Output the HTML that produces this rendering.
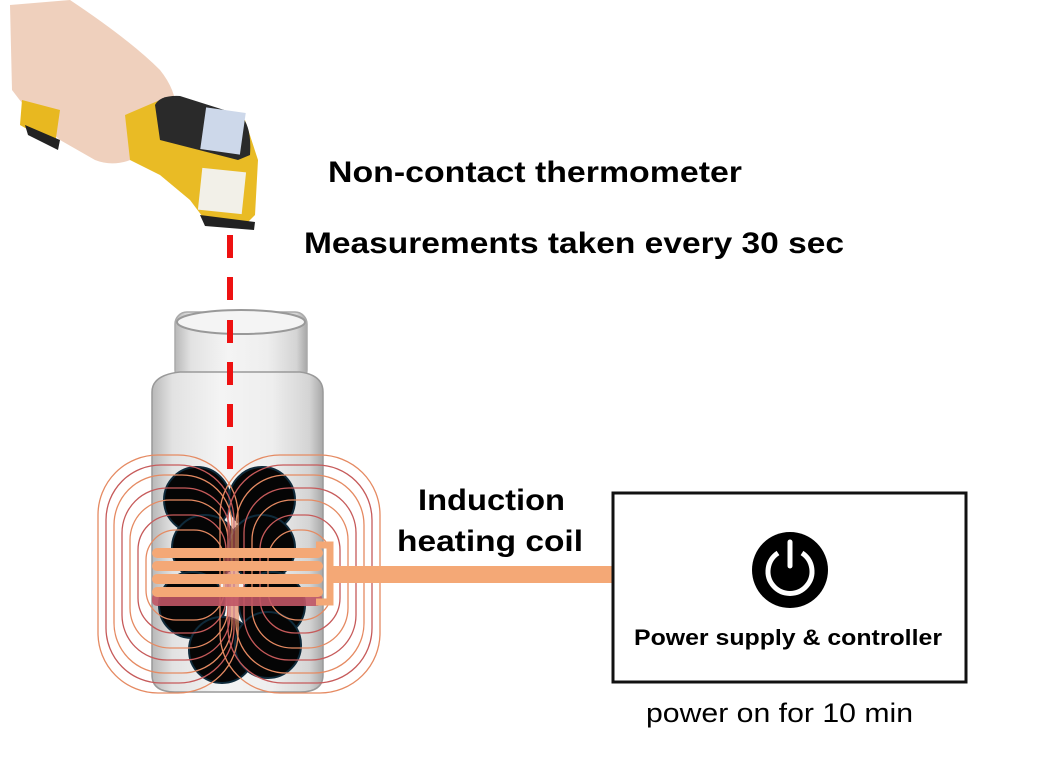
<!DOCTYPE html>
<html><head><meta charset="utf-8"><style>
html,body{margin:0;padding:0;background:#fff;}
svg{display:block;}
text{font-family:"Liberation Sans",sans-serif;}
</style></head><body>
<svg width="1057" height="777" viewBox="0 0 1057 777" xmlns="http://www.w3.org/2000/svg">
<defs>
<linearGradient id="glass" x1="0" x2="1" y1="0" y2="0">
<stop offset="0" stop-color="#b8b8b8"/><stop offset="0.12" stop-color="#e2e2e2"/><stop offset="0.4" stop-color="#f4f4f4"/><stop offset="0.7" stop-color="#eeeeee"/><stop offset="0.92" stop-color="#d4d4d4"/><stop offset="1" stop-color="#a8a8a8"/>
</linearGradient>
</defs>
<!-- hand -->
<path d="M10,5 L70,0 Q130,40 160,70 Q180,95 175,120 L150,150 Q120,170 95,160 L60,140 Q30,115 12,90 Z" fill="#efd0bd"/>
<!-- thermometer handle -->
<path d="M22,100 L60,110 L55,145 L20,125 Z" fill="#e8b820"/>
<path d="M25,125 L60,140 L58,150 L28,135 Z" fill="#222"/>
<!-- thermometer body -->
<path d="M125,115 L160,100 L245,120 L258,160 L255,215 L245,225 L205,220 L190,200 L160,175 L130,160 Z" fill="#e9bb25"/>
<path d="M155,105 Q160,95 180,96 L240,115 Q252,125 250,155 L238,160 L160,140 Z" fill="#2a2a2a"/>
<rect x="203" y="110" width="40" height="42" fill="#cdd8ea" transform="rotate(8 223 131)"/>
<rect x="200" y="170" width="44" height="42" fill="#f2f0e8" transform="rotate(6 222 191)"/>
<path d="M200,215 L255,222 L254,230 L205,226 Z" fill="#222"/>
<!-- red dashed line -->
<line x1="230" y1="235" x2="230" y2="470" stroke="#ee1111" stroke-width="6" stroke-dasharray="23 19"/>
<!-- jar -->
<rect x="175" y="312" width="132" height="70" rx="12" fill="url(#glass)" stroke="#aaa" stroke-width="1.5"/>
<ellipse cx="241" cy="322" rx="64" ry="12" fill="#f4f4f4" stroke="#999" stroke-width="2"/>
<path d="M152,392 Q152,375 180,372 L300,372 Q323,375 323,392 L323,675 Q323,692 300,692 L175,692 Q152,692 152,675 Z" fill="url(#glass)" stroke="#999" stroke-width="1.5"/>
<line x1="230" y1="318" x2="230" y2="470" stroke="#ee1111" stroke-width="6" stroke-dasharray="23 19" stroke-dashoffset="-2"/>
<!-- balls -->
<g fill="#050505" stroke="#0f2a3a" stroke-width="2">
<circle cx="197" cy="500" r="33"/><circle cx="262" cy="500" r="33"/>
<circle cx="205" cy="548" r="33"/><circle cx="262" cy="548" r="33"/>
<circle cx="192" cy="605" r="33"/><circle cx="272" cy="605" r="33"/>
<circle cx="222" cy="650" r="33"/><circle cx="268" cy="645" r="33"/>
</g>
<!-- field lines -->
<g fill="none" stroke-width="1.3">
<rect x="98" y="455" width="140" height="238" rx="60" stroke="#e58a62"/>
<rect x="106" y="465" width="128" height="218" rx="55" stroke="#c65a5a"/>
<rect x="114" y="475" width="118" height="198" rx="50" stroke="#e58a62"/>
<rect x="122" y="488" width="108" height="172" rx="45" stroke="#c65a5a"/>
<rect x="130" y="500" width="98" height="148" rx="40" stroke="#e58a62"/>
<rect x="138" y="515" width="88" height="118" rx="35" stroke="#c65a5a"/>
<rect x="146" y="530" width="78" height="90" rx="30" stroke="#e58a62"/>
<rect x="220" y="455" width="160" height="238" rx="60" stroke="#e58a62"/>
<rect x="228" y="465" width="144" height="218" rx="55" stroke="#c65a5a"/>
<rect x="236" y="475" width="128" height="198" rx="50" stroke="#e58a62"/>
<rect x="244" y="488" width="112" height="172" rx="45" stroke="#c65a5a"/>
<rect x="252" y="500" width="96" height="148" rx="40" stroke="#e58a62"/>
<rect x="260" y="515" width="80" height="118" rx="35" stroke="#c65a5a"/>
<rect x="268" y="530" width="64" height="90" rx="30" stroke="#e58a62"/>
</g>
<!-- coil -->
<rect x="152" y="593" width="170" height="13" rx="5" fill="#c05565" opacity="0.9"/>
<g fill="none" stroke="#f4a876" stroke-width="10" stroke-linecap="round">
<line x1="157" y1="553" x2="318" y2="553"/>
<line x1="157" y1="566" x2="318" y2="566"/>
<line x1="157" y1="579" x2="318" y2="579"/>
<line x1="157" y1="592" x2="318" y2="592"/>
</g>
<path d="M316,545 L330,545 L330,602 L316,602" fill="none" stroke="#f4a876" stroke-width="7"/>
<rect x="330" y="566" width="282" height="17" fill="#f4a876"/>
<!-- labels -->
<text x="328" y="182" font-size="30" font-weight="bold" textLength="414" lengthAdjust="spacingAndGlyphs">Non-contact thermometer</text>
<text x="304" y="253" font-size="30" font-weight="bold" textLength="540" lengthAdjust="spacingAndGlyphs">Measurements taken every 30 sec</text>
<text x="418" y="510" font-size="30" font-weight="bold" textLength="147" lengthAdjust="spacingAndGlyphs">Induction</text>
<text x="397" y="551" font-size="30" font-weight="bold" textLength="186" lengthAdjust="spacingAndGlyphs">heating coil</text>
<!-- box -->
<rect x="613" y="493" width="353" height="189" fill="none" stroke="#111" stroke-width="3"/>
<circle cx="790" cy="570" r="38" fill="#000"/>
<path d="M778,553 A22,22 0 1 0 802,553" fill="none" stroke="#fff" stroke-width="5"/>
<line x1="790" y1="542" x2="790" y2="566" stroke="#fff" stroke-width="5" stroke-linecap="round"/>
<text x="634" y="645" font-size="22" font-weight="bold" textLength="308" lengthAdjust="spacingAndGlyphs">Power supply &amp; controller</text>
<text x="646" y="722" font-size="27" textLength="267" lengthAdjust="spacingAndGlyphs">power on for 10 min</text>
</svg>
</body></html>
